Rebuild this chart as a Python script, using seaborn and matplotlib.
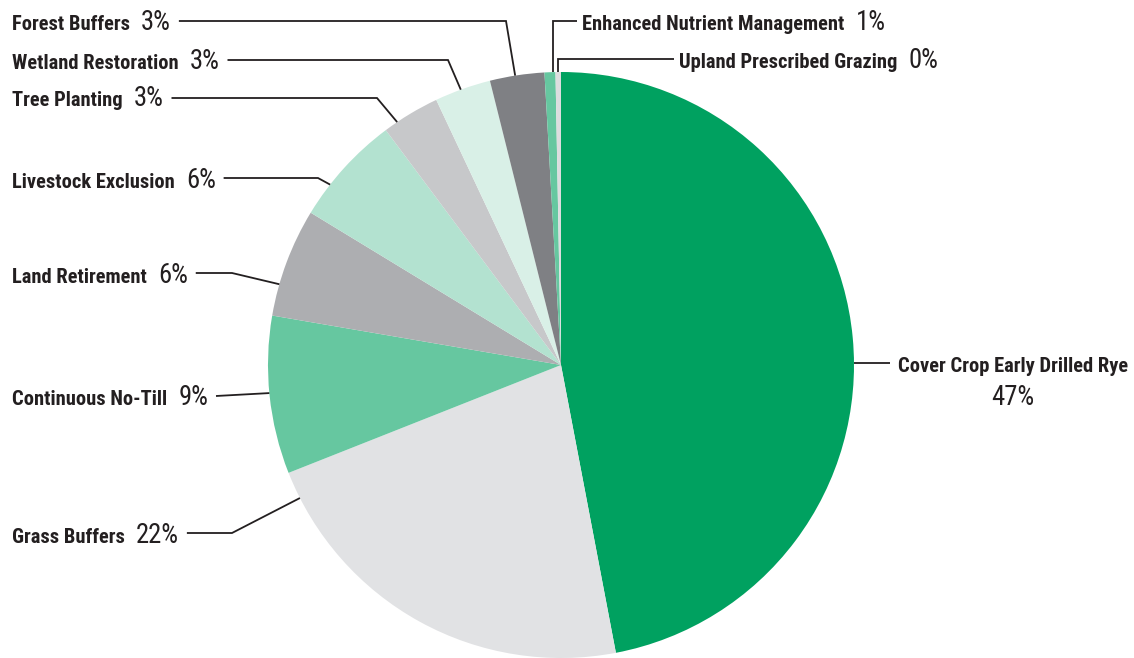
import matplotlib
matplotlib.use("Agg")
import matplotlib.pyplot as plt
from matplotlib import font_manager
import numpy as np
import seaborn as sns

# ---- data -------------------------------------------------------------
practices = [
    "Cover Crop Early Drilled Rye",
    "Grass Buffers",
    "Continuous No-Till",
    "Land Retirement",
    "Livestock Exclusion",
    "Tree Planting",
    "Wetland Restoration",
    "Forest Buffers",
    "Enhanced Nutrient Management",
    "Upland Prescribed Grazing",
]
shares = [47.0, 22.0, 8.7, 6.0, 6.1, 3.2, 3.1, 3.0, 0.6, 0.3]
slice_colors = [
    "#00A160", "#E1E2E4", "#66C7A0", "#ADAEB1", "#B3E2D0",
    "#C7C8CA", "#D9F0E7", "#7F8084", "#66C7A0", "#DCDDDF",
]

# ---- layout (pixel units, y measured from the top) -------------------
W, H = 1134, 658
CX, CY, R = 561, 365, 293
# where each leader line touches the rim, degrees clockwise from 12 o'clock
anchor_deg = [90, 243, 264.5, 286, 308, 326, 340, 351, 358.4, 359.4]
# label anchor point (left edge / centre) and leader-line height
label_xy = [(1013, 363), (12, 534), (12, 396), (12, 274), (12, 179),
            (12, 97), (12, 60), (12, 21), (582, 21), (679, 59)]
# elbow of each leader ("v" = drop vertically to the rim, None = straight)
elbows = [None, (232, 533), None, (232, 273), (318, 178),
          (377, 98), (448, 60), (506, 21), "v", "v"]

INK = "#231F20"

sns.set_theme(style="white")


def pick_family():
    names = {f.name for f in font_manager.fontManager.ttflist}
    for fam in ["Roboto Condensed", "Liberation Sans Narrow",
                "Open Sans Condensed", "DejaVu Sans"]:
        if fam in names:
            return fam
    return "DejaVu Sans"


FAMILY = pick_family()
plt.rcParams["font.family"] = [FAMILY, "DejaVu Sans"]
plt.rcParams["font.stretch"] = "condensed"


def up(y):
    return H - y


fig = plt.figure(figsize=(W / 100, H / 100), dpi=100)
ax = fig.add_axes([0, 0, 1, 1])
ax.pie(
    shares,
    colors=sns.color_palette(slice_colors),
    startangle=90,
    counterclock=False,
    center=(CX, up(CY)),
    radius=R,
    wedgeprops=dict(linewidth=0),
    frame=True,
)
ax.set_xlim(0, W)
ax.set_ylim(0, H)
ax.set_aspect("equal")
ax.axis("off")

renderer = fig.canvas.get_renderer()

# choose a font size so the longest label spans its space
probe = ax.text(0, 0, practices[0], fontsize=10, fontweight="bold")
w10 = probe.get_window_extent(renderer).width
probe.remove()
FS = min(18.0, 10 * 230 / w10)
PFS = FS * 1.3                # percentages are set larger and lighter
BASE = 0.33 * PFS * 100 / 72  # baseline offset below the leader line, px


def rim_point(deg):
    t = np.deg2rad(deg)
    return CX + R * np.sin(t), CY - R * np.cos(t)


def leader(points):
    xs = [p[0] for p in points]
    ys = [up(p[1]) for p in points]
    ax.plot(xs, ys, color=INK, lw=1.3, solid_capstyle="butt",
            solid_joinstyle="miter")


for i, (name, val) in enumerate(zip(practices, shares)):
    pct = f"{val:.0f}%"
    lx, ly = label_xy[i]
    rx, ry = rim_point(anchor_deg[i])
    if i == 0:
        ax.text(lx, up(ly + BASE), name, ha="center", va="baseline",
                fontsize=FS, fontweight="bold", color=INK)
        ax.text(lx, up(ly + BASE + 33), pct, ha="center", va="baseline",
                fontsize=PFS, fontweight="normal", color=INK)
        leader([(rx, ly), (890, ly)])
        continue
    t1 = ax.text(lx, up(ly + BASE), name, ha="left", va="baseline",
                 fontsize=FS, fontweight="bold", color=INK)
    x1 = t1.get_window_extent(renderer).x1
    t2 = ax.text(x1 + 11, up(ly + BASE), pct, ha="left",
                 va="baseline", fontsize=PFS, fontweight="normal",
                 color=INK)
    end = t2.get_window_extent(renderer).x1
    el = elbows[i]
    if el == "v":
        leader([(lx - 5, ly), (rx, ly), (rx, ry)])
    elif el is None:
        leader([(end + 8, ly), (rx, ry)])
    else:
        leader([(end + 8, el[1]), el, (rx, ry)])

fig.savefig("out.png", dpi=100, facecolor="white")
